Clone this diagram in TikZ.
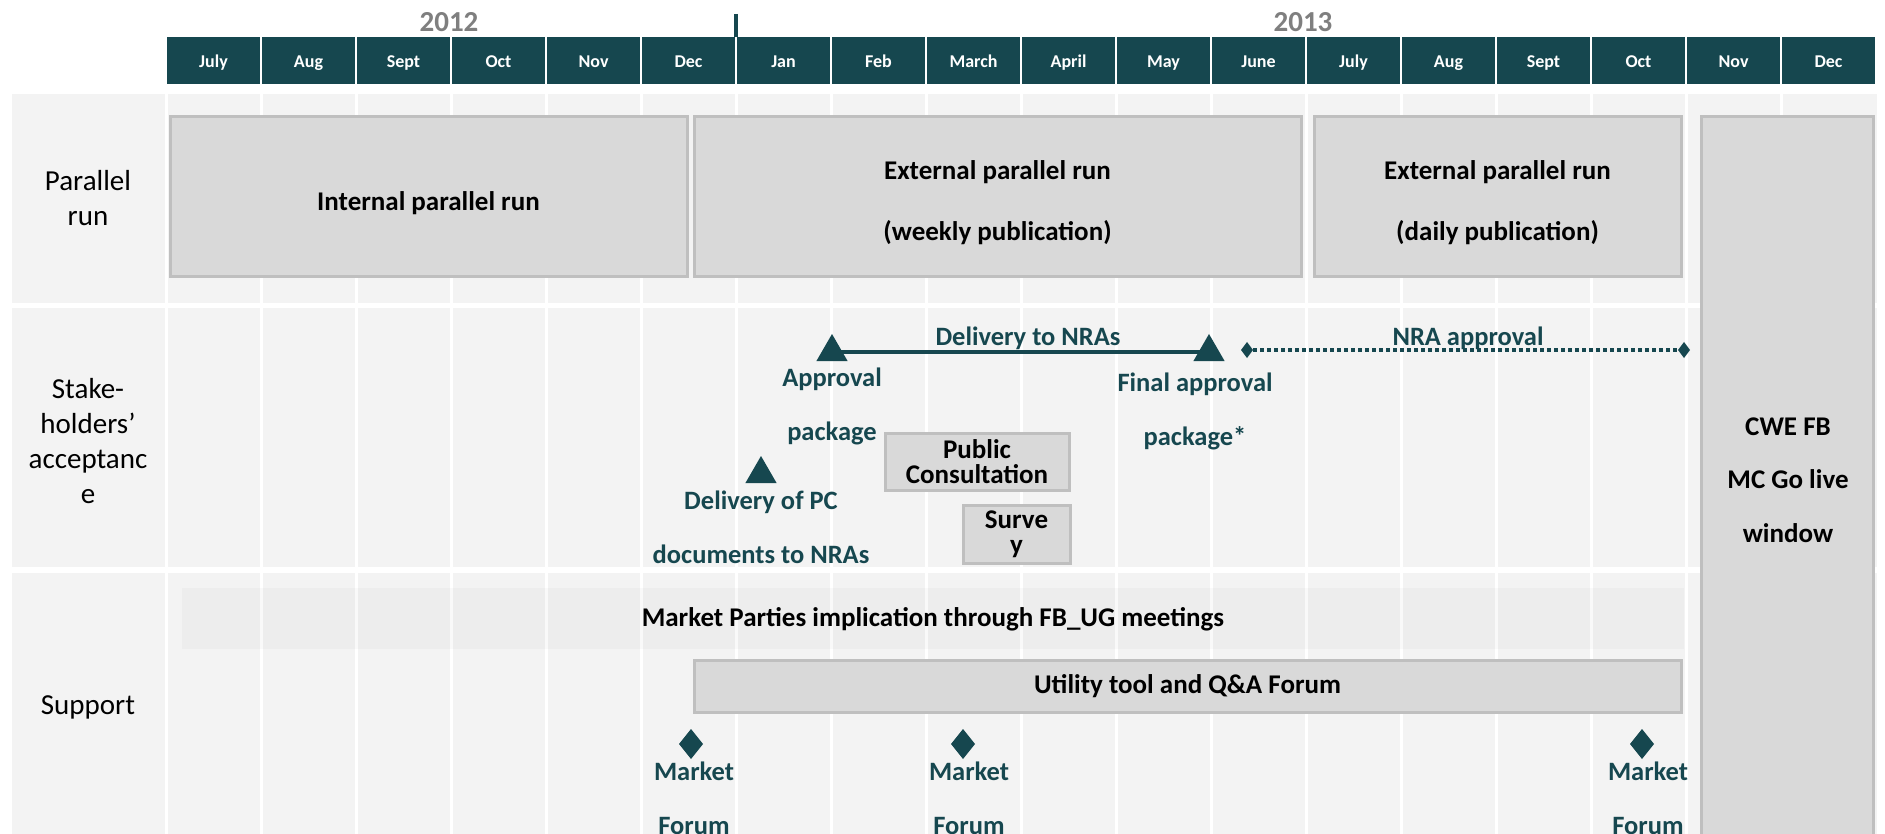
\documentclass[tikz,border=0pt]{standalone}
\usepackage{fontspec}
\setmainfont{Carlito}
\usetikzlibrary{shapes.geometric}
\usetikzlibrary{positioning}

\definecolor{darkteal}{HTML}{16474F}
\definecolor{cellgray}{HTML}{F3F3F3}
\definecolor{boxgray}{HTML}{D9D9D9}
\definecolor{boxline}{HTML}{BFBFBF}
\definecolor{yeargray}{HTML}{7F7F7F}

\tikzstyle{month} = [fill=darkteal, text=white, inner sep=0pt, text height=14pt, text depth=0.5pt,
 minimum width=93pt, minimum height=47pt, font=\fontsize{18}{20}\selectfont\bfseries]
\tikzstyle{year} = [text=yeargray, inner sep=0pt, font=\fontsize{29}{30}\selectfont\bfseries]
\tikzstyle{rowlabel} = [align=center, inner sep=0pt, font=\fontsize{29}{35}\selectfont]
\tikzstyle{phase} = [draw=boxline, fill=boxgray, line width=3pt, align=center,
 inner sep=0pt, font=\fontsize{27}{61}\selectfont\bfseries]
\tikzstyle{phasetext} = [align=center, inner sep=0pt, font=\fontsize{27}{61}\selectfont\bfseries]
\tikzstyle{smallbox} = [phase, font=\fontsize{27}{25}\selectfont\bfseries]
\tikzstyle{band} = [fill=black, fill opacity=0.025, text opacity=1, inner sep=0pt,
 font=\fontsize{27}{30}\selectfont\bfseries]
\tikzstyle{milestone} = [regular polygon, regular polygon sides=3, fill=darkteal,
 minimum size=36pt, inner sep=0pt, outer sep=0pt]
\tikzstyle{forum} = [diamond, fill=darkteal, minimum width=24pt, minimum height=30pt,
 inner sep=0pt, outer sep=0pt]
\tikzstyle{enddot} = [diamond, fill=darkteal, minimum width=12pt, minimum height=16pt,
 inner sep=0pt, outer sep=0pt]
\tikzstyle{note} = [text=darkteal, align=center, inner sep=0pt,
 font=\fontsize{26.5}{54}\selectfont\bfseries]
\tikzstyle{line} = [darkteal, line width=3.5pt]
\tikzstyle{dottedline} = [darkteal, line width=3.5pt, dash pattern=on 3.5pt off 3.5pt]

\begin{document}
\begin{tikzpicture}[x=1pt, y=-1pt]

	\useasboundingbox (0,0) rectangle (1885,834);
	\clip (0,0) rectangle (1885,834);
	\fill[white] (0,0) rectangle (1885,834);

	% months
	\foreach \m [count=\i from 0] in {July,Aug,Sept,Oct,Nov,Dec,Jan,Feb,March,April,May,June,July,Aug,Sept,Oct,Nov,Dec}
		\node [month] (m\i) at (213.5+95*\i, 60.5) {\m};
	\node [year] (y2012) at (449,22) {2012};
	\node [year] (y2013) at (1303,22) {2013};
	\draw [line] (736,14) -- (736,37);

	% grid of the three rows
	\foreach \top/\bot in {94/303, 308/567, 573/850} {
		\fill [cellgray] (12,\top) rectangle (1877,\bot);
		\foreach \i in {0,...,17}
			\fill [white] (164.5+95*\i,\top) rectangle (167.5+95*\i,\bot);
	}

	\node [rowlabel] (lpar) at (88,198) {Parallel\\run};
	\node [rowlabel] (lstake) at (88,441) {Stake-\\holders’\\acceptanc\\e};
	\node [rowlabel] (lsup) at (88,707) {Support};

	% parallel run
	\node [phase, minimum width=517pt, minimum height=160pt] (internal) at (428.5,197) {};
	\node [phase, minimum width=607pt, minimum height=160pt] (weekly) at (997.5,197) {};
	\node [phase, minimum width=367pt, minimum height=160pt] (daily) at (1497.5,197) {};
	\node [phase, minimum width=172pt, minimum height=740pt] (golive) at (1787,487) {};
	\node [phasetext] at ([yshift=-6pt]internal.center) {Internal parallel run};
	\node [phasetext] at ([yshift=-6pt]weekly.center) {External parallel run\\(weekly publication)};
	\node [phasetext] at ([yshift=-6pt]daily.center) {External parallel run\\(daily publication)};
	\node [phasetext, font=\fontsize{27}{53.5}\selectfont\bfseries] at (1788,480) {CWE FB\\MC Go live\\window};

	% stakeholders
	\node [milestone] (appr) at (832,352) {};
	\node [milestone] (final) at (1209,352) {};
	\draw [line] (appr.center) -- (final.center);
	\node [note] at (1028,338) {Delivery to NRAs};
	\node [note, below=7pt of appr] {Approval\\package};
	\node [note, below=12pt of final, xshift=-14pt] {Final approval\\package*};

	\node [enddot] (nra1) at (1247,350) {};
	\node [enddot] (nra2) at (1684,350) {};
	\draw [dottedline] (nra1) -- (nra2);
	\node [note] at (1468,338) {NRA approval};

	\node [milestone] (pc) at (761,474) {};
	\node [note, below=8pt of pc] {Delivery of PC\\documents to NRAs};

	\node [smallbox, minimum width=184pt, minimum height=57pt] (pubcons) at (977,461.5) {Public\\Consultation};
	\node [smallbox, minimum width=107pt, minimum height=58pt] (survey) at (1016.5,534) {Surve\\y};

	% support
	\node [band, minimum width=1502pt, minimum height=61pt, text depth=3pt] (fbug) at (933,618.5) {Market Parties implication through FB\_UG meetings};
	\node [phase, minimum width=987pt, minimum height=52pt] (utility) at (1187.5,686) {Utility tool and Q\&A Forum};

	\node [forum] (mf1) at (691,744) {};
	\node [forum] (mf2) at (963,744) {};
	\node [forum] (mf3) at (1642,744) {};
	\node [note, below=3pt of mf1, xshift=3pt] {Market\\Forum};
	\node [note, below=3pt of mf2, xshift=6pt] {Market\\Forum};
	\node [note, below=3pt of mf3, xshift=6pt] {Market\\Forum};

\end{tikzpicture}
\end{document}
